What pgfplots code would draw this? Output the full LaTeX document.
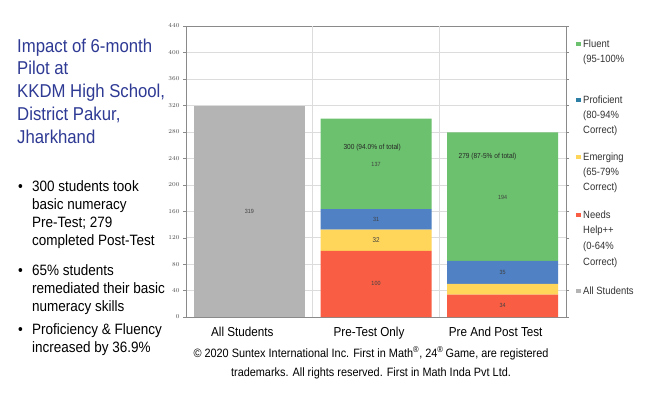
\documentclass[border=0pt]{standalone}
\usepackage{pgfplots}
\pgfplotsset{compat=1.18}
\usepackage{fontspec}
\setmainfont[FakeStretch=0.9]{Liberation Sans}
\definecolor{cgreen}{HTML}{6CC16E}
\definecolor{cblue}{HTML}{4F81C4}
\definecolor{cteal}{HTML}{2E7FA6}
\definecolor{cyellow}{HTML}{FFD55A}
\definecolor{cred}{HTML}{F95E45}
\definecolor{cgray}{HTML}{B4B4B4}
\definecolor{ctitle}{HTML}{2E3A94}
\definecolor{cgrid}{HTML}{DCDCDC}
\definecolor{caxis}{HTML}{8A8A8A}
\tikzset{
  ttl/.style={anchor=base west,inner sep=0pt,text=ctitle,font=\fontsize{18.6}{20}\selectfont},
  blt/.style={anchor=base west,inner sep=0pt,font=\fontsize{15}{17}\selectfont},
  lgd/.style={anchor=base west,inner sep=0pt,text=black!80,font=\fontsize{10.5}{12}\selectfont},
  val/.style={font=\fontsize{6}{7}\selectfont, text=black!75, inner sep=0pt},
  tot/.style={font=\fontsize{7.3}{8}\selectfont, text=black!85, inner sep=0pt},
}
\begin{document}
\begin{tikzpicture}[x=1pt,y=1pt]
\useasboundingbox (0,0) rectangle (661,399);
\fill[white] (0,0) rectangle (661,399);
\node[ttl] at (17,399-53) {Impact of 6-month};
\node[ttl] at (17,399-75) {Pilot at};
\node[ttl] at (17,399-98) {KKDM High School,};
\node[ttl] at (17,399-121) {District Pakur,};
\node[ttl] at (17,399-144) {Jharkhand};
\node[blt] at (18,399-192) {•};
\node[blt] at (32,399-192) {300 students took};
\node[blt] at (32,399-210) {basic numeracy};
\node[blt] at (32,399-228) {Pre-Test; 279};
\node[blt] at (32,399-246) {completed Post-Test};
\node[blt] at (18,399-276) {•};
\node[blt] at (32,399-276) {65\% students};
\node[blt] at (32,399-294) {remediated their basic};
\node[blt] at (32,399-312) {numeracy skills};
\node[blt] at (18,399-334) {•};
\node[blt] at (32,399-334) {Proficiency \& Fluency};
\node[blt] at (32,399-352) {increased by 36.9\%};
\node[anchor=base,inner sep=0pt,font=\fontsize{12.1}{14}\selectfont] at (371,399-357) {© 2020 Suntex International Inc. First in Math\textsuperscript{®}, 24\textsuperscript{®}\,Game, are registered};
\node[anchor=base,inner sep=0pt,font=\fontsize{12.1}{14}\selectfont] at (371,399-376) {trademarks. All rights reserved. First in Math Inda Pvt Ltd.};
\fill[cgreen] (576,399-46) rectangle (581,399-42);
\node[lgd] at (583,399-48) {Fluent};
\node[lgd] at (583,399-63) {(95-100\%};
\fill[cteal] (576,399-102) rectangle (581,399-98);
\node[lgd] at (583,399-104) {Proficient};
\node[lgd] at (583,399-119) {(80-94\%};
\node[lgd] at (583,399-134) {Correct)};
\fill[cyellow] (576,399-159) rectangle (581,399-155);
\node[lgd] at (583,399-161) {Emerging};
\node[lgd] at (583,399-176) {(65-79\%};
\node[lgd] at (583,399-191) {Correct)};
\fill[cred] (576,399-217) rectangle (581,399-213);
\node[lgd] at (583,399-219) {Needs};
\node[lgd] at (583,399-234) {Help++};
\node[lgd] at (583,399-250) {(0-64\%};
\node[lgd] at (583,399-266) {Correct)};
\fill[cgray] (576,399-293) rectangle (581,399-289);
\node[lgd] at (583,399-295) {All Students};
\begin{axis}[
  at={(186pt,82pt)}, anchor=south west,
  scale only axis, width=380pt, height=291pt,
  ybar stacked, bar width=111pt,
  xmin=-0.5, xmax=2.5, ymin=0, ymax=440,
  ytick={0,40,...,440},
  xtick={0,1,2}, xticklabels={All Students,Pre-Test Only,Pre And Post Test},
  xticklabel style={font=\fontsize{13}{15}\selectfont, yshift=-4pt, xshift=-7pt},
  x tick style={draw=none},
  extra x ticks={0.5,1.5}, extra x tick labels={},
  extra x tick style={xmajorgrids=true, major grid style={cgrid}},
  ymajorgrids, major grid style={cgrid},
  yticklabel style={font=\fontsize{6.5}{7}\selectfont, text=black!70},
  tick align=outside, major tick length=3pt,
  y tick style={caxis},
  axis line style={caxis},
  clip=false,
]
\addplot[fill=cgray, draw=none] coordinates {(0,319) (1,0) (2,0)};
\addplot[fill=cred, draw=none] coordinates {(0,0) (1,100) (2,34)};
\addplot[fill=cyellow, draw=none] coordinates {(0,0) (1,32) (2,16)};
\addplot[fill=cblue, draw=none] coordinates {(0,0) (1,31) (2,35)};
\addplot[fill=cgreen, draw=none] coordinates {(0,0) (1,137) (2,194)};
\coordinate (v1) at (axis cs:0,159);
\coordinate (v2) at (axis cs:1,50);
\coordinate (v3) at (axis cs:1,116);
\coordinate (v4) at (axis cs:1,147.5);
\coordinate (v5) at (axis cs:1,230);
\coordinate (v6) at (axis cs:0.97,256);
\coordinate (v7) at (axis cs:2,17);
\coordinate (v8) at (axis cs:2,67);
\coordinate (v9) at (axis cs:2,181);
\coordinate (v10) at (axis cs:1.88,242);
\end{axis}
\node[val] at (v1) {319};
\node[val] at (v2) {100};
\node[val,font=\fontsize{7}{8}\selectfont] at (v3) {32};
\node[val] at (v4) {31};
\node[val] at (v5) {137};
\node[tot] at (v6) {300 (94.0\% of total)};
\node[val] at (v7) {34};
\node[val] at (v8) {35};
\node[val] at (v9) {194};
\node[tot] at (v10) {279 (87-5\% of total)};
\end{tikzpicture}
\end{document}
